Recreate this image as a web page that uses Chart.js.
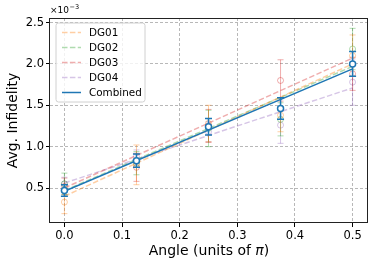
<!DOCTYPE html>
<html><head><meta charset="utf-8">
<script src="https://cdn.jsdelivr.net/npm/chart.js@4/dist/chart.umd.min.js"></script>
<style>html,body{margin:0;padding:0;background:#fff;}canvas{display:block;}</style>
</head><body>
<canvas id="c" width="374" height="267"></canvas>
<script>
// ---- data (values in units of 1e-3) ----
const angles = [0, 0.125, 0.25, 0.375, 0.5];
const seriesNames = ['DG01', 'DG02', 'DG03', 'DG04', 'Combined'];
const dg01 = [0.33, 0.78, 1.28, 1.38, 2.10];
const dg01Err = [0.14, 0.24, 0.22, 0.20, 0.25];
const dg02 = [0.55, 0.80, 1.22, 1.33, 2.18];
const dg02Err = [0.13, 0.14, 0.22, 0.20, 0.25];
const dg03 = [0.52, 0.75, 1.25, 1.80, 1.88];
const dg03Err = [0.10, 0.17, 0.20, 0.25, 0.20];
const dg04 = [0.55, 0.88, 1.18, 1.26, 1.78];
const dg04Err = [0.08, 0.08, 0.12, 0.22, 0.28];
const combined = [0.47, 0.83, 1.24, 1.46, 2.00];
const combinedErr = [0.07, 0.08, 0.10, 0.13, 0.15];
const fitX = [0, 0.5];
const dg01Fit = [0.40, 2.00];
const dg02Fit = [0.47, 1.97];
const dg03Fit = [0.50, 2.07];
const dg04Fit = [0.56, 1.71];
const combinedFit = [0.46, 1.94];
const xTicks = [0, 0.1, 0.2, 0.3, 0.4, 0.5];
const yTicks = [0.5, 1.0, 1.5, 2.0, 2.5];
const xTitleParts = ['Angle (units of ', '\u03c0', ')'];
const yTitle = 'Avg. Infidelity';

const FONT = 'DejaVu Sans';
const faded = ['rgba(255,127,14,0.38)', 'rgba(44,160,44,0.38)', 'rgba(214,39,40,0.38)', 'rgba(148,103,189,0.38)'];
const blue = '#1f77b4';

const pts = (xs, ys) => xs.map((x, i) => ({x: x, y: ys[i]}));
const dgVals = [dg01, dg02, dg03, dg04];
const dgErrs = [dg01Err, dg02Err, dg03Err, dg04Err];
const dgFits = [dg01Fit, dg02Fit, dg03Fit, dg04Fit];

const datasets = [];
dgVals.forEach((v, k) => {
  datasets.push({
    label: seriesNames[k], data: pts(fitX, dgFits[k]), showLine: true,
    borderColor: faded[k], borderWidth: 1.5, borderDash: [5.5, 2.4], pointRadius: 0,
    order: 20, legendLine: true, dashed: true
  });
});
dgVals.forEach((v, k) => {
  datasets.push({
    label: seriesNames[k] + ' pts', data: pts(angles, v), showLine: false,
    borderColor: faded[k], backgroundColor: 'rgba(255,255,255,0)', pointRadius: 3, pointBorderWidth: 1,
    errors: dgErrs[k], errWidth: 1, cap: 3, order: 10
  });
});
datasets.push({
  label: seriesNames[4], data: pts(fitX, combinedFit), showLine: true,
  borderColor: blue, borderWidth: 1.5, pointRadius: 0, order: 2, legendLine: true
});
datasets.push({
  label: 'Combined pts', data: pts(angles, combined), showLine: false,
  borderColor: blue, backgroundColor: '#ffffff', pointRadius: 3, pointBorderWidth: 1.5,
  errors: combinedErr, errWidth: 1.5, cap: 3.5, order: 1
});

const errPlugin = {
  id: 'errbars',
  beforeDatasetDraw(chart, args) {
    const ds = chart.data.datasets[args.index];
    if (!ds.errors) return;
    const ctx = chart.ctx, xs = chart.scales.x, ys = chart.scales.y;
    ctx.save();
    ctx.strokeStyle = ds.borderColor; ctx.lineWidth = ds.errWidth;
    ctx.beginPath();
    ds.data.forEach((p, i) => {
      const e = ds.errors[i];
      const px = xs.getPixelForValue(p.x);
      const y1 = ys.getPixelForValue(p.y - e), y2 = ys.getPixelForValue(p.y + e);
      ctx.moveTo(px, y1); ctx.lineTo(px, y2);
      ctx.moveTo(px - ds.cap, y1); ctx.lineTo(px + ds.cap, y1);
      ctx.moveTo(px - ds.cap, y2); ctx.lineTo(px + ds.cap, y2);
    });
    ctx.stroke();
    ctx.restore();
  }
};

const decorPlugin = {
  id: 'decor',
  afterDatasetsDraw(chart) {
    const ctx = chart.ctx, a = chart.chartArea;
    ctx.save();
    // frame
    ctx.strokeStyle = '#222'; ctx.lineWidth = 1;
    ctx.strokeRect(Math.round(a.left) - 0.5, Math.round(a.top) + 0.5, Math.round(a.right - a.left) + 1, Math.round(a.bottom - a.top) - 1);
    // offset text
    ctx.fillStyle = '#000'; ctx.textBaseline = 'alphabetic'; ctx.textAlign = 'left';
    ctx.font = '9px "' + FONT + '"';
    ctx.fillText('\u00d710', 50, 12.5);
    const w = ctx.measureText('\u00d710').width;
    ctx.font = '6.5px "' + FONT + '"';
    ctx.fillText('\u22123', 50 + w + 0.5, 8.5);
    // x axis title with italic pi
    const fN = '14px "' + FONT + '"', fI = 'oblique 14px "' + FONT + '"';
    ctx.font = fN; const w0 = ctx.measureText(xTitleParts[0]).width, w2 = ctx.measureText(xTitleParts[2]).width;
    ctx.font = fI; const w1 = ctx.measureText(xTitleParts[1]).width;
    let tx = (a.left + a.right) / 2 - (w0 + w1 + w2) / 2 + 0.5;
    const ty = 251;
    ctx.textBaseline = 'middle'; ctx.fillStyle = '#000';
    ctx.font = fN; ctx.fillText(xTitleParts[0], tx, ty); tx += w0;
    ctx.font = fI; ctx.fillText(xTitleParts[1], tx, ty); tx += w1;
    ctx.font = fN; ctx.fillText(xTitleParts[2], tx, ty);
    // legend
    const bx = 56, by = 23, bw = 89, bh = 79, r = 2.5;
    ctx.beginPath();
    ctx.moveTo(bx + r, by); ctx.lineTo(bx + bw - r, by); ctx.arcTo(bx + bw, by, bx + bw, by + r, r);
    ctx.lineTo(bx + bw, by + bh - r); ctx.arcTo(bx + bw, by + bh, bx + bw - r, by + bh, r);
    ctx.lineTo(bx + r, by + bh); ctx.arcTo(bx, by + bh, bx, by + bh - r, r);
    ctx.lineTo(bx, by + r); ctx.arcTo(bx, by, bx + r, by, r); ctx.closePath();
    ctx.fillStyle = 'rgba(255,255,255,0.8)'; ctx.fill();
    ctx.strokeStyle = '#d0d0d0'; ctx.lineWidth = 1; ctx.stroke();
    const items = chart.data.datasets.filter(d => d.legendLine);
    items.forEach((d, i) => {
      const y = 32.5 + 15 * i;
      ctx.beginPath();
      ctx.setLineDash(d.dashed ? d.borderDash : []);
      ctx.strokeStyle = d.borderColor; ctx.lineWidth = d.borderWidth;
      ctx.moveTo(62, y); ctx.lineTo(81, y); ctx.stroke();
      ctx.setLineDash([]);
      ctx.fillStyle = '#000'; ctx.font = '10.4px "' + FONT + '"'; ctx.textBaseline = 'middle';
      ctx.fillText(d.label, 89, y + 0.5);
    });
    ctx.restore();
  }
};

new Chart(document.getElementById('c'), {
  type: 'scatter',
  data: {datasets: datasets},
  plugins: [errPlugin, decorPlugin],
  options: {
    responsive: false, animation: false, devicePixelRatio: 1,
    layout: {padding: {top: 18, right: 7, left: 0, bottom: 0}},
    plugins: {legend: {display: false}, tooltip: {enabled: false}},
    scales: {
      x: {
        type: 'linear', min: -0.025, max: 0.525,
        afterBuildTicks: s => { s.ticks = xTicks.map(v => ({value: v})); },
        afterFit: s => { s.height = 44; },
        ticks: {font: {family: FONT, size: 11.5}, color: '#000', padding: 2, maxRotation: 0, callback: v => Number(v).toFixed(1)},
        grid: {color: '#b8b8b8', lineWidth: 1, tickLength: 4, tickColor: '#000', tickWidth: 1, tickBorderDash: [0, 0]},
        border: {display: false, dash: [3, 2]},
        title: {display: false}
      },
      y: {
        type: 'linear', min: 0.077, max: 2.555,
        afterBuildTicks: s => { s.ticks = yTicks.map(v => ({value: v})); },
        afterFit: s => { s.width = 50; },
        ticks: {font: {family: FONT, size: 11.5}, color: '#000', padding: 2, callback: v => Number(v).toFixed(1)},
        grid: {color: '#b8b8b8', lineWidth: 1, tickLength: 4, tickColor: '#000', tickWidth: 1, tickBorderDash: [0, 0]},
        border: {display: false, dash: [3, 2]},
        title: {display: true, text: yTitle, font: {family: FONT, size: 14}, color: '#000', padding: {top: 5, bottom: 0}}
      }
    }
  }
});
</script>
</body></html>
